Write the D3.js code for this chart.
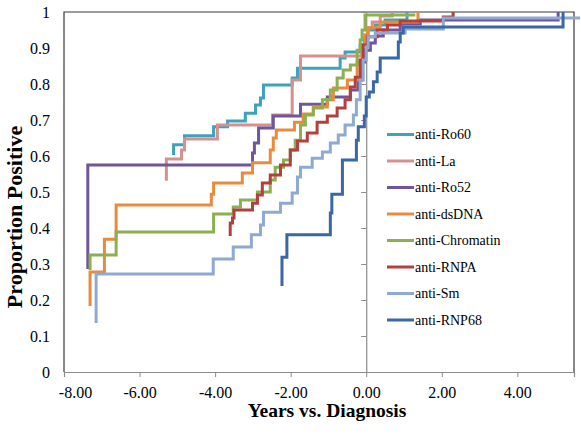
<!DOCTYPE html>
<html><head><meta charset="utf-8">
<script src="https://cdn.jsdelivr.net/npm/d3@7"></script>
<style>body{margin:0;background:#fff}svg{display:block}</style>
</head><body>
<svg id="c" width="581" height="437"></svg>
<script>
// ---- data (years vs diagnosis, cumulative proportion positive) ----
const seriesNames = ["anti-Ro60","anti-La","anti-Ro52","anti-dsDNA","anti-Chromatin","anti-RNPA","anti-Sm","anti-RNP68"];
const seriesColors = ["#3fa2bb","#d6918f","#6f559c","#e98a3c","#8cb04f","#b2403e","#8eaad3","#3a67a8"];

const ro60X = [-5.10,-5.10,-4.81,-4.04,-3.67,-3.20,-2.93,-2.80,-2.72,-1.96,-1.82,-0.69,-0.56,-0.16,-0.05,0.05,0.24,0.50,1.08];
const ro60Y = [0.603,0.631,0.656,0.681,0.697,0.719,0.742,0.761,0.797,0.817,0.844,0.872,0.889,0.908,0.928,0.95,0.964,0.978,1.0];

const laX = [-5.29,-5.29,-4.89,-4.81,-3.94,-2.48,-1.96,-1.74,-0.11,-0.03,0.05,0.16,0.37,0.69];
const laY = [0.531,0.592,0.617,0.647,0.686,0.714,0.811,0.878,0.908,0.936,0.956,0.972,0.989,1.0];

const ro52X = [-7.37,-7.37,-3.01,-2.96,-2.85,-2.46,-1.74,-1.03,-0.42,-0.21,-0.11,-0.03,0.11,0.24,0.45,0.90,1.43,5.08];
const ro52Y = [0.286,0.575,0.608,0.636,0.678,0.711,0.744,0.764,0.783,0.811,0.861,0.894,0.914,0.933,0.95,0.967,0.978,1.0];

const dsX = [-7.31,-7.31,-6.93,-6.62,-4.10,-4.04,-3.28,-3.01,-2.54,-2.46,-2.38,-1.90,-1.67,-1.40,-1.03,-0.87,-0.50,-0.24,-0.11,-0.03,0.03,0.37,1.37];
const dsY = [0.183,0.278,0.369,0.464,0.494,0.525,0.553,0.581,0.617,0.65,0.672,0.694,0.717,0.736,0.756,0.789,0.811,0.861,0.908,0.936,0.956,0.972,1.0];

const chX = [-7.31,-7.31,-6.62,-4.04,-3.52,-3.33,-2.88,-2.54,-2.41,-2.19,-2.01,-1.88,-1.74,-1.61,-1.40,-1.16,-0.95,-0.77,-0.61,-0.42,-0.24,-0.16,-0.11,-0.03,1.30];
const chY = [0.283,0.325,0.389,0.439,0.458,0.478,0.5,0.533,0.569,0.589,0.617,0.644,0.686,0.714,0.733,0.756,0.783,0.817,0.839,0.853,0.894,0.922,0.95,0.992,0.992];

const rnpaX = [-3.60,-3.60,-3.54,-3.50,-3.01,-2.88,-2.75,-2.54,-2.27,-2.01,-1.82,-1.56,-1.30,-1.03,-0.77,-0.56,-0.42,-0.29,-0.16,-0.08,0.03,0.29,0.56,0.90,2.04,2.30];
const rnpaY = [0.378,0.414,0.428,0.45,0.469,0.492,0.525,0.547,0.575,0.617,0.642,0.664,0.694,0.711,0.733,0.756,0.792,0.819,0.867,0.908,0.931,0.95,0.964,0.975,0.986,1.0];

const smX = [-7.15,-7.15,-4.05,-3.52,-3.04,-2.80,-2.72,-2.27,-1.96,-1.82,-1.74,-1.43,-1.16,-0.95,-0.74,-0.56,-0.34,-0.26,-0.16,-0.08,0,0.05,0.24,1.03,2.04,5.66];
const smY = [0.136,0.272,0.314,0.347,0.381,0.408,0.444,0.469,0.497,0.542,0.569,0.594,0.611,0.636,0.658,0.686,0.714,0.756,0.811,0.867,0.903,0.931,0.942,0.953,0.983,0.983];

const rnp68X = [-2.23,-2.23,-2.10,-0.95,-0.91,-0.63,-0.26,-0.21,-0.05,0,0.08,0.19,0.29,0.37,0.85,0.90,0.98,5.21];
const rnp68Y = [0.239,0.319,0.381,0.442,0.494,0.589,0.644,0.681,0.711,0.764,0.778,0.806,0.833,0.872,0.917,0.942,0.958,1.0];

const xTicks = [-8,-6,-4,-2,0,2,4];
const yTicks = [0,0.1,0.2,0.3,0.4,0.5,0.6,0.7,0.8,0.9,1];
const xTitle = "Years vs. Diagnosis";
const yTitle = "Proportion Positive";

// ---- build ----
const allX = [ro60X,laX,ro52X,dsX,chX,rnpaX,smX,rnp68X];
const allY = [ro60Y,laY,ro52Y,dsY,chY,rnpaY,smY,rnp68Y];
const series = seriesNames.map((n,i)=>({name:n,color:seriesColors[i],pts:allX[i].map((x,j)=>[x,allY[i][j]])}));

const FONT = "'Liberation Serif','Times New Roman',serif";
const svg = d3.select("#c");
const L=64,R=574,T=12,B=372;
const x = d3.scaleLinear().domain([-8,5.5]).range([L,R]);
const y = d3.scaleLinear().domain([0,1]).range([B,T]);

// plot border (top, left, right)
svg.append("path").attr("d",`M${L},${B}V${T}H${R}V${B}`).attr("fill","none").attr("stroke","#3a3a3a").attr("stroke-width",1.2);

// y labels on left
const gy = svg.append("g").attr("transform",`translate(${L},0)`)
  .call(d3.axisLeft(y).tickValues(yTicks).tickSize(0).tickPadding(14).tickFormat(d=>d===0?"0":d===1?"1":d.toFixed(1)));
gy.select(".domain").remove();
gy.selectAll("text").attr("font-family",FONT).attr("font-size",16).attr("fill","#000");

// vertical axis at x=0 with ticks
const gz = svg.append("g").attr("transform",`translate(${x(0)},0)`)
  .call(d3.axisLeft(y).tickValues(yTicks).tickSize(5).tickFormat(""));
gz.select(".domain").attr("stroke","#8c8c8c").attr("stroke-width",1.2);
gz.selectAll(".tick line").attr("stroke","#8c8c8c");

// bottom axis
const gx = svg.append("g").attr("transform",`translate(0,${B})`)
  .call(d3.axisBottom(x).tickValues(xTicks).tickSize(5).tickPadding(10).tickFormat(d=>d.toFixed(2)));
gx.select(".domain").attr("stroke","#8c8c8c").attr("stroke-width",1.2);
gx.selectAll(".tick line").attr("stroke","#8c8c8c");
gx.selectAll("text").attr("font-family",FONT).attr("font-size",16).attr("fill","#000")
  .attr("dx",(d,i)=>i===0?11:0);

// series
const line = d3.line().x(d=>x(d[0])).y(d=>y(d[1])).curve(d3.curveStepAfter);
svg.append("g").selectAll("path").data(series).join("path")
  .attr("d",d=>line(d.pts)).attr("fill","none").attr("stroke",d=>d.color)
  .attr("stroke-width",3).attr("stroke-linejoin","miter");

// legend
const lg = svg.append("g");
series.forEach((s,i)=>{
  const cy = 134.5 + i*26.5;
  lg.append("line").attr("x1",387).attr("x2",414).attr("y1",cy).attr("y2",cy)
    .attr("stroke",s.color).attr("stroke-width",3);
  lg.append("text").attr("x",415).attr("y",cy).attr("dy","0.35em")
    .attr("font-family",FONT).attr("font-size",14).attr("fill","#000").text(s.name);
});

// titles
svg.append("text").attr("x",327).attr("y",417).attr("text-anchor","middle")
  .attr("font-family",FONT).attr("font-weight","bold").attr("font-size",19.5).text(xTitle);
svg.append("text").attr("transform","translate(22,217) rotate(-90)").attr("text-anchor","middle")
  .attr("font-family",FONT).attr("font-weight","bold").attr("font-size",22).text(yTitle);
</script>
</body></html>
